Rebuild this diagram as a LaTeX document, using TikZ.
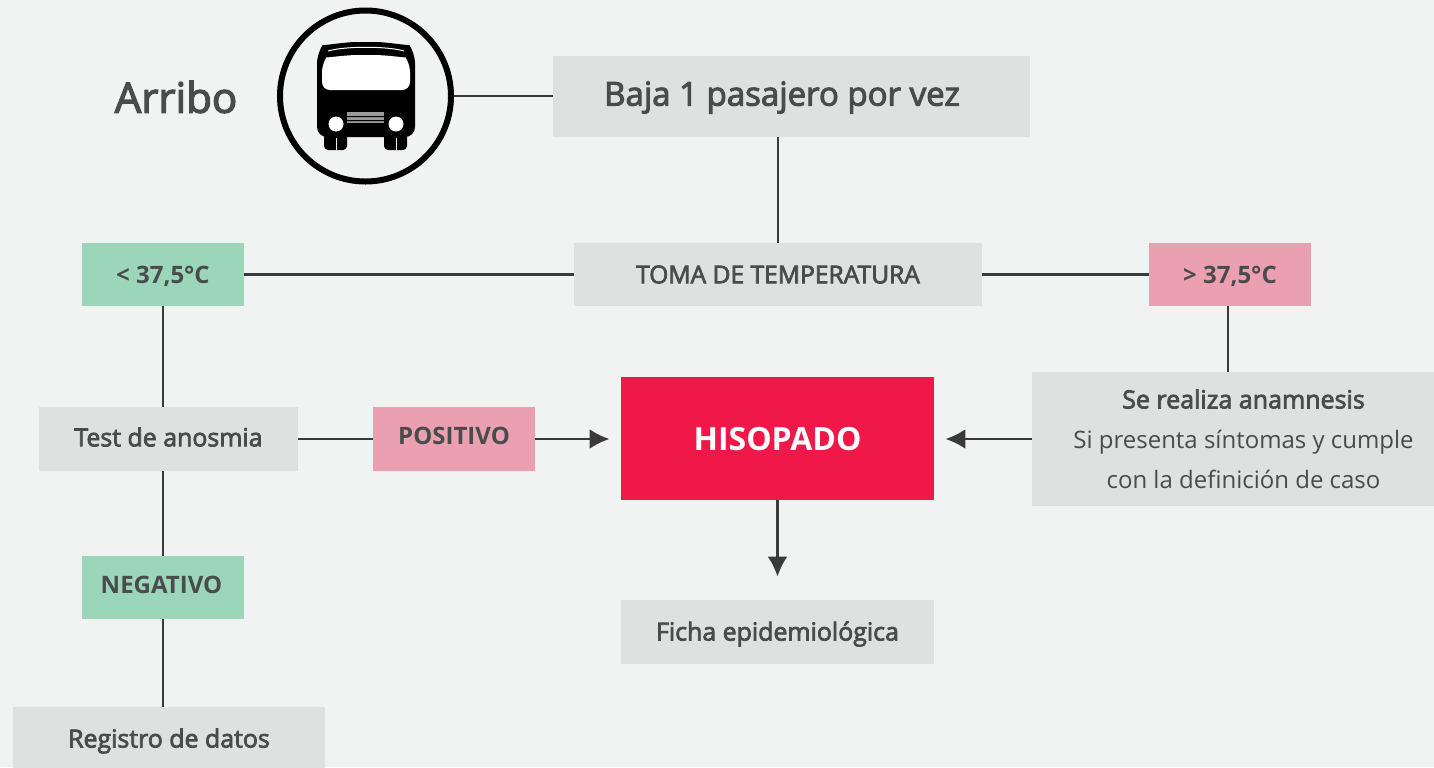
\documentclass[tikz,border=0pt]{standalone}
\usepackage{fontspec}
\setmainfont{Open Sans}
\newfontfamily\semifont[RawFeature={embolden=3}]{Open Sans}
\usetikzlibrary{arrows.meta}
\definecolor{pagegray}{HTML}{F1F3F2}
\definecolor{boxgray}{HTML}{DFE1E0}
\definecolor{boxgreen}{HTML}{9BD5BA}
\definecolor{boxpink}{HTML}{EBA0B2}
\definecolor{boxred}{HTML}{F01848}
\definecolor{inkgray}{HTML}{4A4C4C}
\definecolor{linegray}{HTML}{3A3A3A}
\newcommand{\nudge}[2]{\raisebox{#1}[\height][\depth]{#2}}

\begin{document}
\begin{tikzpicture}[x=0.5pt,y=-0.5pt,
                       main box/.style={rectangle,inner sep=0pt,text=inkgray,font=\fontsize{12}{20}\selectfont,align=center},
                       gray box/.style={main box,fill=boxgray},
                       green box/.style={main box,fill=boxgreen,font=\fontsize{12}{20}\selectfont\bfseries,minimum width=81pt,minimum height=31.5pt},
                       pink box/.style={main box,fill=boxpink,font=\fontsize{12}{20}\selectfont\bfseries,minimum width=81pt,minimum height=32pt},
                       semi box/.style={gray box,font=\fontsize{12.45}{20}\selectfont\semifont},
                       link/.style={draw=linegray,line width=1.4pt},
                       arrow link/.style={link,-{Latex[length=10pt,width=10pt]}}
                      ]
   \path[use as bounding box,clip] (0,0) rectangle (1434,767);
   \fill[pagegray] (0,0) rectangle (1434,767);

   \node[text=inkgray,font=\fontsize{21}{25}\selectfont\semifont] (arribo) at (176,97) {Arribo};
   \node[circle,draw=black,line width=3pt,fill=pagegray,minimum size=85.5pt,inner sep=0pt] (bus) at (365.5,96) {};

   % bus
   \fill[black,rounded corners=5pt] (317,137) -- (317,53) .. controls (322,46) and (345,42) .. (366,42) .. controls (387,42) and (410,46) .. (415,53) -- (415,137) -- cycle;
   \fill[white,rounded corners=4pt] (322,90) -- (322,64) .. controls (326,58) and (345,55) .. (366,55) .. controls (387,55) and (406,58) .. (410,64) -- (410,90) -- cycle;
   \draw[white,line width=0.5pt] (328,51) .. controls (345,46) and (387,46) .. (404,51);
   \fill[black,rounded corners=2pt] (324,130) rectangle (347,150) (384,130) rectangle (407,150);
   \draw[pagegray,line width=0.3pt] (336,138) -- (336,150) (396,138) -- (396,150);
   \fill[white] (336,124) circle (7.5) (396,124) circle (7.5);
   \fill[gray!80] (347,112) rectangle (384,123);
   \fill[black] (347,116) rectangle (384,117) (347,120) rectangle (384,121);

   \node[gray box,minimum width=238.5pt,minimum height=40.5pt,font=\fontsize{16.5}{20}\selectfont\semifont] (baja) at (791.5,96.5) {\nudge{-0.5pt}{Baja 1 pasajero por vez}\hspace*{9.5pt}};
   \node[semi box,minimum width=204pt,minimum height=31.5pt,font=\fontsize{12.3}{20}\selectfont\semifont] (toma) at (778,274.5) {TOMA DE TEMPERATURA};
   \node[green box] (menor) at (163,274.5) {\nudge{-1pt}{< 37,5°C}};
   \node[pink box,minimum height=31.5pt] (mayor) at (1230,274.5) {\nudge{-1pt}{> 37,5°C}};
   \node[gray box,minimum width=201pt,minimum height=67pt] (anamnesis) at (1233,439) {\hspace*{10.5pt}{\fontsize{12.5}{20}\selectfont\semifont Se realiza anamnesis}\\\hspace*{10.5pt}Si presenta síntomas y cumple\\\hspace*{10.5pt}con la definición de caso};
   \node[main box,fill=boxred,text=white,minimum width=156.5pt,minimum height=61.5pt,font=\fontsize{16}{20}\selectfont\bfseries] (hisopado) at (777.5,438.5) {\nudge{-0.5pt}{HISOPADO}};
   \node[semi box,minimum width=129.5pt,minimum height=32pt] (test) at (168.5,439) {\nudge{1pt}{Test de anosmia}};
   \node[pink box] (positivo) at (454,439) {\nudge{1.5pt}{POSITIVO}};
   \node[green box] (negativo) at (163,587.5) {\nudge{1.5pt}{NEGATIVO}\hspace*{1.5pt}};
   \node[semi box,minimum width=156.5pt,minimum height=32pt] (ficha) at (777.5,632) {\nudge{-1pt}{Ficha epidemiológica}};
   \node[semi box,minimum width=156pt,minimum height=32pt] (registro) at (169,739) {\nudge{-1pt}{Registro de datos}};

   \coordinate (mayor drop) at (1228,306);

   \path[link]%
    (toma.north |- baja.south) -- (toma.north)
    (toma.west) -- (menor.east)
    (toma.east) -- (mayor.west)
    (menor.south) -- (menor.south |- test.north)
    (menor.south |- test.south) -- (negativo.north)
    (negativo.south) -- (negativo.south |- registro.north)
    (test.east) -- (positivo.west)
    (mayor drop) -- (mayor drop |- anamnesis.north);
   \draw[draw=linegray,line width=1pt] (bus.east) -- (bus.east -| baja.west);
   \draw[arrow link,shorten >=5.5pt] (positivo.east) -- (positivo.east -| hisopado.west);
   \draw[arrow link,shorten >=5.5pt] (anamnesis.west |- positivo.east) -- (positivo.east -| hisopado.east);
   \draw[arrow link,shorten >=11.5pt] (hisopado.south) -- (ficha.north);
  \end{tikzpicture}
\end{document}
